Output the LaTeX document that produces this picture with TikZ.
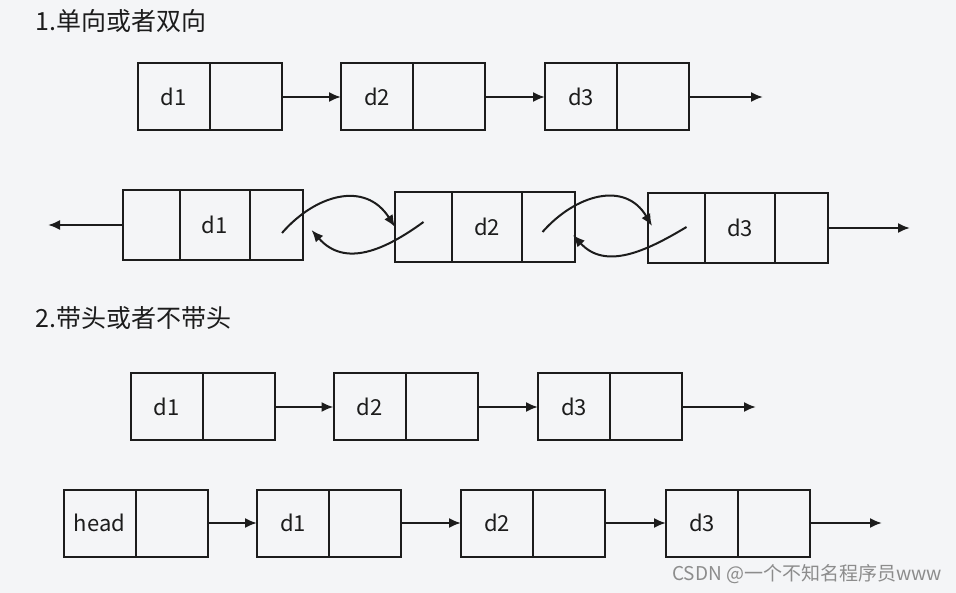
\documentclass[tikz,border=0pt]{standalone}
\usepackage{fontspec}
\setmainfont{Noto Sans CJK SC}
\usepackage{xcolor}
\usetikzlibrary{arrows.meta,positioning}
\definecolor{bgcol}{RGB}{244,245,247}
\definecolor{ink}{RGB}{28,28,28}

\begin{document}
\begin{tikzpicture}[x=1pt, y=-1pt,
  cell/.style={draw=ink, line width=2pt, minimum width=72pt, minimum height=67pt, inner sep=0pt, outer sep=0pt, text=ink, font=\fontsize{22}{26}\selectfont},
  dcell/.style={cell, minimum width=70pt, minimum height=70pt},
  pcell/.style={cell, minimum width=57pt, minimum height=70pt},
  ncell/.style={cell, minimum width=53pt, minimum height=70pt},
  link/.style={-{Latex[length=12pt,width=10pt]}, line width=2pt, draw=ink},
  title/.style={anchor=west, inner sep=0pt, text=ink, font=\fontsize{25}{29}\selectfont},
  wmark/.style={anchor=east, inner sep=0pt, text=black!45, font=\fontsize{19}{22}\selectfont}
]
\useasboundingbox (0,0) rectangle (956,593);
\fill[bgcol] (0,0) rectangle (956,593);

% Section 1: single / double
\node[title] (t1) at (35,21) {1.单向或者双向};

% single linked list
\node[cell] (sd1) at (173.5,97) {d1};
\node[cell, right=0pt of sd1] (sn1) {};
\node[cell] (sd2) at (377,97) {d2};
\node[cell, right=0pt of sd2] (sn2) {};
\node[cell] (sd3) at (581,97) {d3};
\node[cell, right=0pt of sd3] (sn3) {};
\coordinate (send) at (763,97);

% double linked list
\node[dcell] (dd1) at (214.5,225) {d1};
\node[pcell, left=0pt of dd1] (dp1) {};
\node[ncell, right=0pt of dd1] (dn1) {};
\node[dcell] (dd2) at (487,227) {d2};
\node[pcell, left=0pt of dd2] (dp2) {};
\node[ncell, right=0pt of dd2] (dn2) {};
\node[dcell] (dd3) at (740,228) {d3};
\node[pcell, left=0pt of dd3] (dp3) {};
\node[ncell, right=0pt of dd3] (dn3) {};
\coordinate (dbeg) at (48,225);
\coordinate (dend) at (910,228);

% Section 2: with / without head
\node[title] (t2) at (35,318) {2.带头或者不带头};

% without head
\node[cell] (nd1) at (166.5,407) {d1};
\node[cell, right=0pt of nd1] (nn1) {};
\node[cell] (nd2) at (369.5,407) {d2};
\node[cell, right=0pt of nd2] (nn2) {};
\node[cell] (nd3) at (574,407) {d3};
\node[cell, right=0pt of nd3] (nn3) {};
\coordinate (nend) at (756,407);

% with head
\node[cell] (hd0) at (99.5,523) {head};
\node[cell, right=0pt of hd0] (hn0) {};
\node[cell] (hd1) at (293,523) {d1};
\node[cell, right=0pt of hd1] (hn1) {};
\node[cell] (hd2) at (497,523) {d2};
\node[cell, right=0pt of hd2] (hn2) {};
\node[cell] (hd3) at (702,523) {d3};
\node[cell, right=0pt of hd3] (hn3) {};
\coordinate (hend) at (882,523);

\node[wmark] (wm) at (942,574) {CSDN @一个不知名程序员www};

% Connections
\draw[link] (sn1) -- (sd2);
\draw[link] (sn2) -- (sd3);
\draw[link] (sn3) -- (send);

\draw[link] (dp1) -- (dbeg);
\draw[link] (dn3) -- (dend);
\draw[link] ([shift={(6,8)}]dn1.center) .. controls (315,195) and (365,180) .. (dp2.west);
\draw[link] ([shift={(0,-5)}]dp2.center) .. controls (385,250) and (345,268) .. ([shift={(9,5)}]dn1.east);
\draw[link] ([shift={(-6,5)}]dn2.center) .. controls (575,195) and (625,180) .. ([shift={(4,-2)}]dp3.west);
\draw[link] ([shift={(10,-1)}]dp3.center) .. controls (645,252) and (605,270) .. ([shift={(-2,8)}]dn2.east);

\draw[link] (nn1) -- (nd2);
\draw[link] (nn2) -- (nd3);
\draw[link] (nn3) -- (nend);

\draw[link] (hn0) -- (hd1);
\draw[link] (hn1) -- (hd2);
\draw[link] (hn2) -- (hd3);
\draw[link] (hn3) -- (hend);

\end{tikzpicture}
\end{document}
